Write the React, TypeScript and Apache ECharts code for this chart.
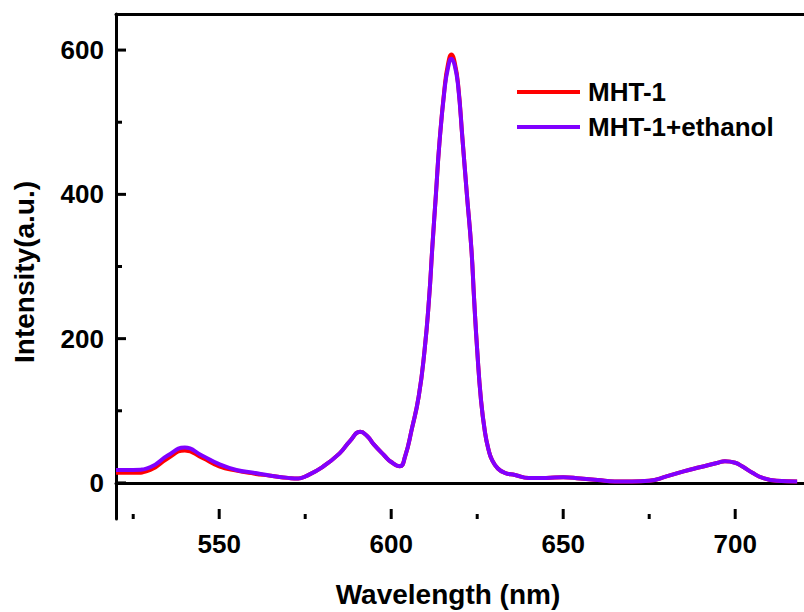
import React, { useEffect, useRef } from "react";
import * as echarts from "echarts";

const wavelength = [
  520, 525, 530, 535, 540, 545, 550, 555, 560, 565, 570, 573, 575, 580, 585, 588,
  591, 593, 595, 598, 600, 602.5, 604, 606, 608, 609.7, 611, 612, 613, 614, 615.5,
  616.5, 617.5, 618.5, 619.5, 620.7, 622, 623.3, 624.1, 625, 626.1, 627.3, 628.3,
  629.3, 631, 633, 636, 640, 645, 650, 655, 660, 665, 670, 675, 680, 685, 690, 695,
  697, 700, 702, 705, 708, 712, 718,
];

const mht1 = [
  14, 14, 18, 34, 45, 35, 23, 17, 13, 10, 7, 6, 9, 22, 41, 58,
  71, 65, 53, 38, 29, 23, 36, 75, 120, 184, 255, 330, 400, 470, 547,
  580, 594, 582, 550, 478, 400, 325, 255, 184, 115, 69, 46,
  32, 20, 14, 11, 7, 7, 8, 6, 4, 2, 2, 3, 9, 16, 22, 28,
  30, 28, 23, 14, 7, 3, 2,
];

const mht1Ethanol = [
  18, 18, 22, 38, 49, 38, 26, 18, 14, 10, 7, 6, 9, 22, 41, 58,
  71, 65, 53, 38, 29, 23, 36, 75, 120, 184, 255, 330, 400, 470, 545,
  575, 588, 578, 548, 478, 400, 325, 255, 184, 115, 69, 46,
  32, 20, 14, 11, 7, 7, 8, 6, 4, 2, 2, 3, 9, 16, 22, 28,
  30, 28, 23, 14, 7, 3, 2,
];

const xMajorTicks = [550, 600, 650, 700];
const xMinorTicks = [525, 575, 625, 675];
const yMajorTicks = [0, 200, 400, 600];
const yMinorTicks = [100, 300, 500];

const seriesNames = ["MHT-1", "MHT-1+ethanol"];
const seriesColors = ["#ff0000", "#8000ff"];

const FONT = "'Liberation Sans', Arial, sans-serif";

const X_MIN = 520;
const X_MAX = 720;
const Y_MIN = -50;
const Y_MAX = 650;

export default function App() {
  const ref = useRef<HTMLDivElement>(null);

  useEffect(() => {
    if (!ref.current) return;
    const chart = echarts.init(ref.current, undefined, { renderer: "svg" });
    const black = { color: "#000", width: 3 };
    const labelStyle = {
      fontFamily: FONT,
      fontWeight: "bold" as const,
      fontSize: 26,
      color: "#000",
    };
    const mk = (vals: number[]) => wavelength.map((w, i) => [w, vals[i]]);

    const tickSeries = (name: string, data: number[][], vertical: boolean, len: number) => ({
      name,
      type: "custom",
      xAxisIndex: 0,
      yAxisIndex: 0,
      clip: false,
      silent: true,
      z: 10,
      data,
      renderItem: (_params: any, api: any) => {
        const p = api.coord([api.value(0), api.value(1)]);
        return vertical
          ? {
              type: "rect",
              shape: { x: p[0] - 1.5, y: p[1] - len, width: 3, height: len },
              style: { fill: "#000" },
            }
          : {
              type: "rect",
              shape: { x: p[0], y: p[1] - 1.5, width: len, height: 3 },
              style: { fill: "#000" },
            };
      },
    });

    chart.setOption({
      animation: false,
      backgroundColor: "#fff",
      grid: { left: 116, right: -6, top: 14, bottom: 93, containLabel: false },
      legend: {
        orient: "vertical",
        left: 512,
        top: 74,
        icon: "rect",
        itemWidth: 63,
        itemHeight: 4,
        itemGap: 9,
        data: seriesNames,
        textStyle: { ...labelStyle, lineHeight: 26, padding: [0, 0, 0, 3] },
      },
      xAxis: [
        {
          type: "value",
          min: X_MIN,
          max: X_MAX,
          splitNumber: 4,
          position: "bottom",
          splitLine: { show: false },
          axisLine: { show: true, lineStyle: black },
          axisTick: { show: false },
          axisLabel: {
            show: true,
            showMinLabel: false,
            showMaxLabel: false,
            margin: 12,
            ...labelStyle,
          },
        },
        {
          type: "value",
          min: X_MIN,
          max: X_MAX,
          position: "top",
          splitLine: { show: false },
          axisLine: { show: true, lineStyle: black },
          axisTick: { show: false },
          axisLabel: { show: false },
        },
      ],
      yAxis: [
        {
          type: "value",
          min: Y_MIN,
          max: Y_MAX,
          splitNumber: 3,
          position: "left",
          splitLine: { show: false },
          axisLine: { show: true, lineStyle: black },
          axisTick: { show: false },
          axisLabel: {
            show: true,
            showMinLabel: false,
            showMaxLabel: false,
            margin: 12,
            ...labelStyle,
          },
        },
      ],
      graphic: [
        {
          type: "text",
          x: 448,
          y: 594,
          style: {
            text: "Wavelength (nm)",
            fontFamily: FONT,
            fontWeight: "bold",
            fontSize: 28,
            fill: "#000",
            align: "center",
            verticalAlign: "middle",
          },
        },
        {
          type: "text",
          x: 24,
          y: 272,
          rotation: Math.PI / 2,
          style: {
            text: "Intensity(a.u.)",
            fontFamily: FONT,
            fontWeight: "bold",
            fontSize: 28,
            fill: "#000",
            align: "center",
            verticalAlign: "middle",
          },
        },
      ],
      series: [
        {
          name: seriesNames[0],
          type: "line",
          data: mk(mht1),
          smooth: 0.5,
          showSymbol: false,
          lineStyle: { color: seriesColors[0], width: 4 },
          itemStyle: { color: seriesColors[0] },
          z: 2,
        },
        {
          name: seriesNames[1],
          type: "line",
          data: mk(mht1Ethanol),
          smooth: 0.5,
          showSymbol: false,
          lineStyle: { color: seriesColors[1], width: 4 },
          itemStyle: { color: seriesColors[1] },
          z: 3,
        },
        tickSeries("xMajor", xMajorTicks.map((v) => [v, Y_MIN]), true, 10),
        tickSeries("xMinor", xMinorTicks.map((v) => [v, Y_MIN]), true, 5),
        tickSeries("yMajor", yMajorTicks.map((v) => [X_MIN, v]), false, 10),
        tickSeries("yMinor", yMinorTicks.map((v) => [X_MIN, v]), false, 6),
      ],
    });
    return () => chart.dispose();
  }, []);

  return <div ref={ref} style={{ width: 804, height: 612, position: "absolute", left: 0, top: 0 }} />;
}
